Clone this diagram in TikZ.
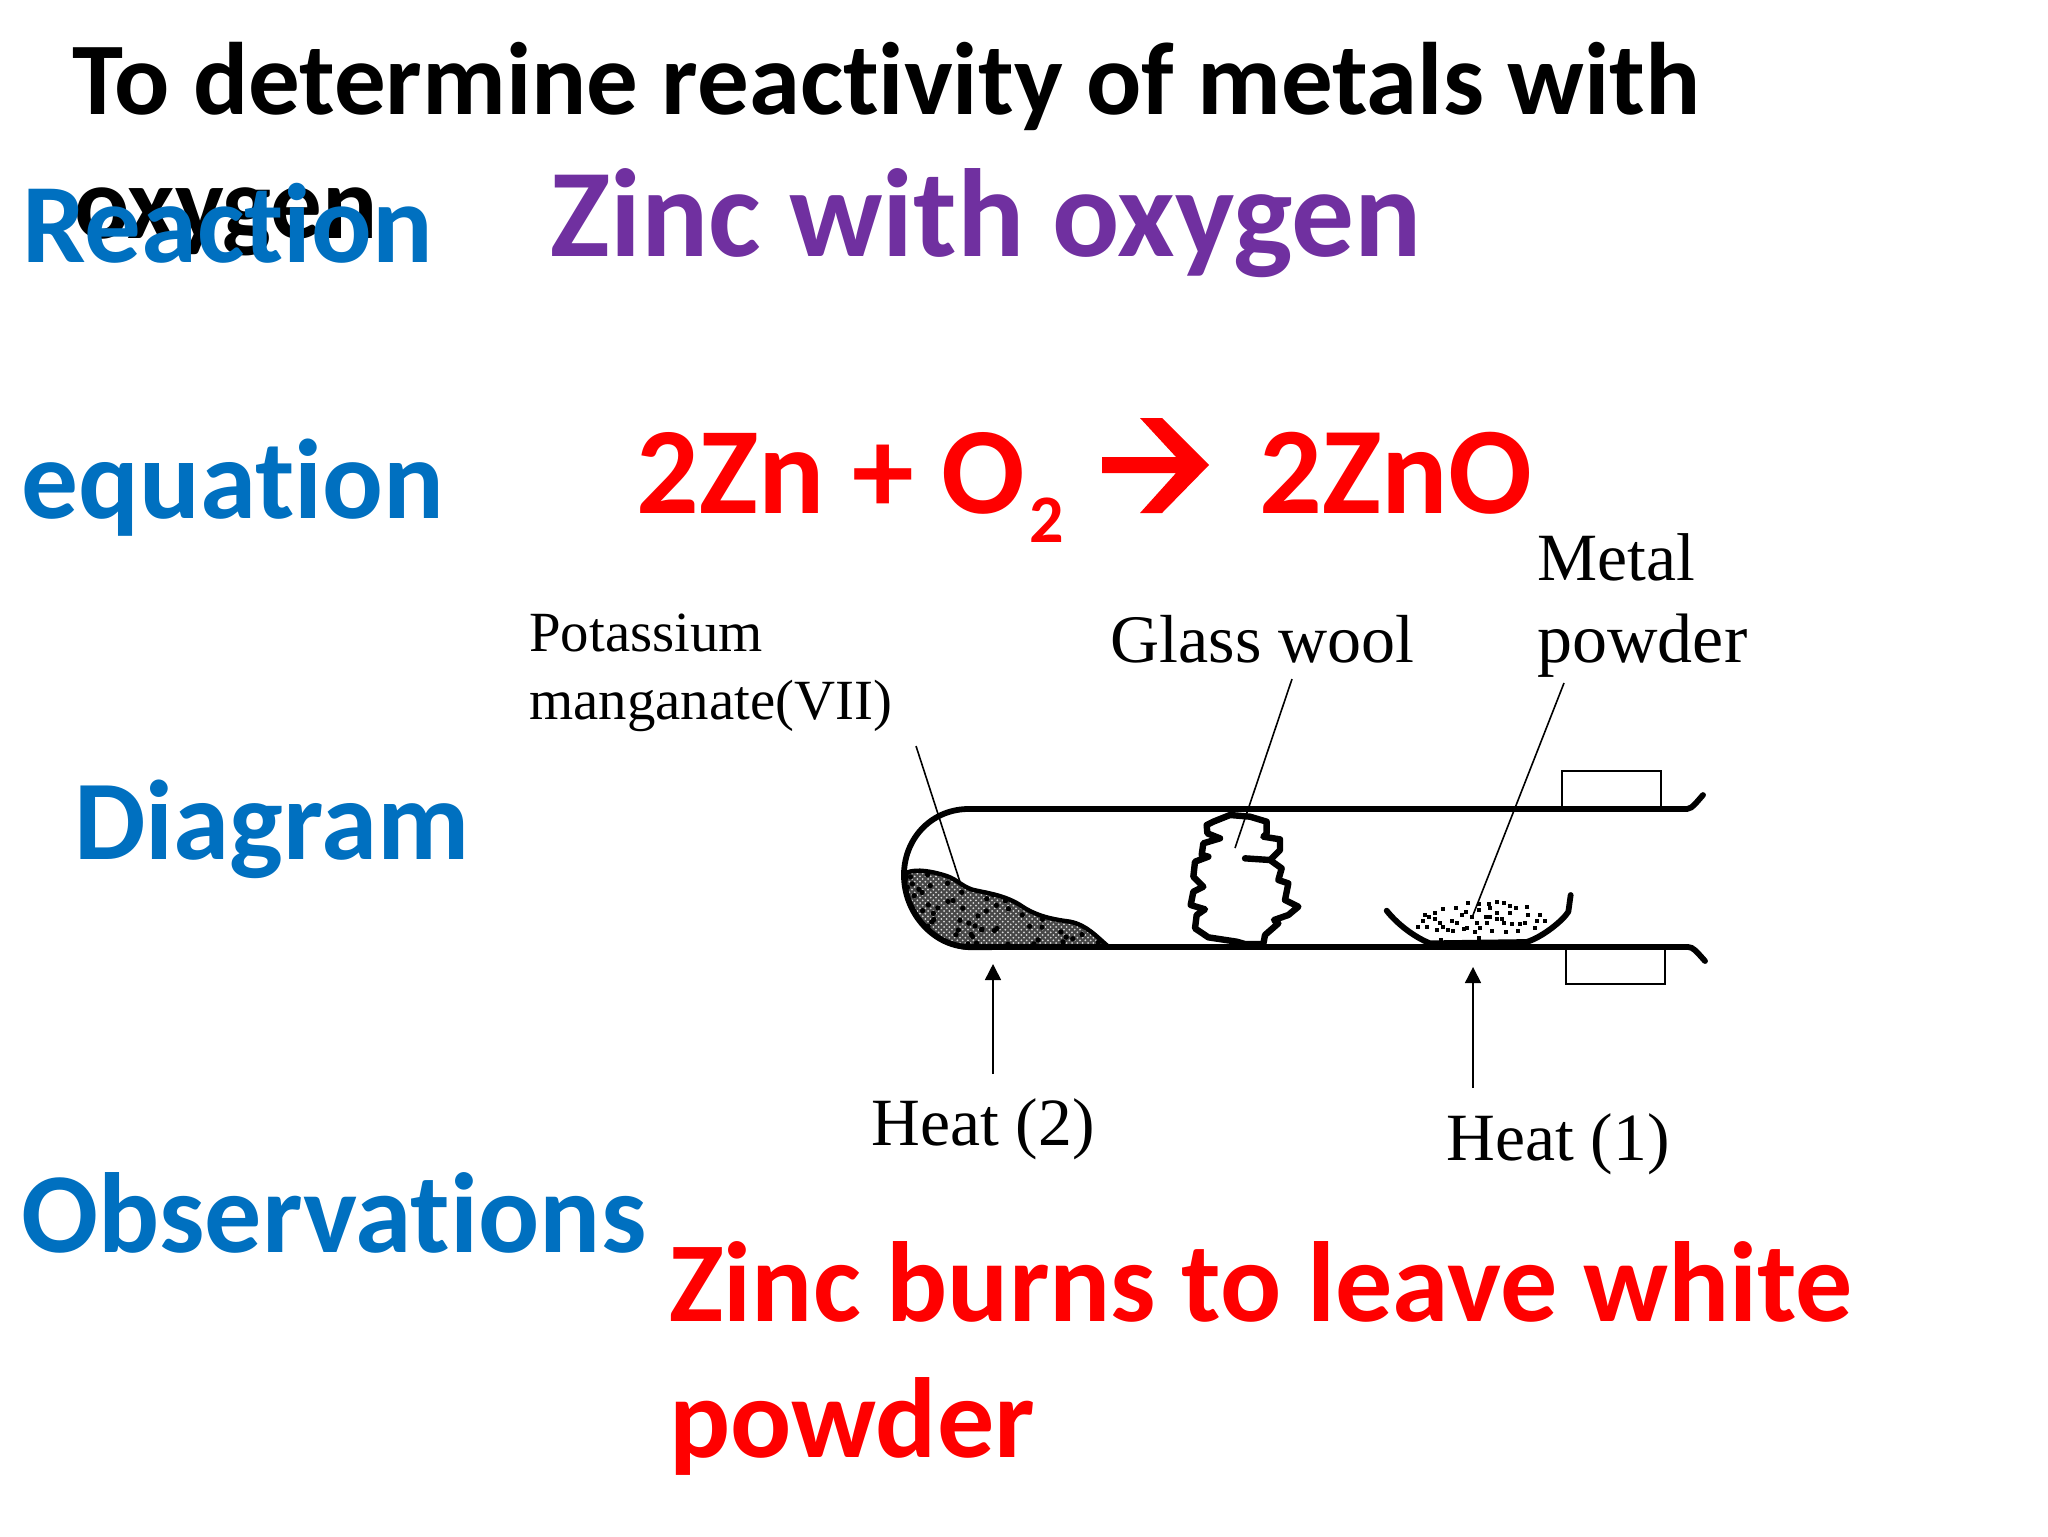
\documentclass[tikz,border=0pt]{standalone}
\usepackage{fontspec}
\usetikzlibrary{arrows.meta,patterns,calc}
\newfontfamily\calfont[Ligatures=NoCommon]{Carlito}
\newfontfamily\timesfont{Liberation Serif}
\definecolor{hblue}{HTML}{0070C0}
\definecolor{hpurple}{HTML}{7030A0}
\definecolor{hred}{HTML}{FF0000}
\tikzset{
  lab/.style={inner sep=0pt,anchor=base west,font=\calfont\bfseries\fontsize{#1}{#1}\selectfont},
  cap/.style={inner sep=0pt,anchor=base west,text=black,font=\timesfont\fontsize{#1}{#1}\selectfont},
  glass/.style={line width=2.9pt,line cap=round,line join=round},
  leader/.style={line width=0.8pt},
  heat/.style={line width=0.8pt,-{Triangle[length=8pt,width=8pt]}},
  stopper/.style={draw,line width=1pt,fill=white}
}
\begin{document}
\begin{tikzpicture}[x=0.5pt,y=-0.5pt]
\useasboundingbox (0,0) rectangle (2048,1536);
\fill[white] (0,0) rectangle (2048,1536);
% headings
\node[lab=51.5,text=black] (title) at (72,114) {To determine reactivity of metals with};
\node[lab=51.5,text=black] (oxy) at (74,238) {oxygen};
\node[lab=56.5,text=hblue] (reaction) at (22,262) {Reaction};
\node[lab=62.7,text=hpurple] (zinc) at (550,256) {Zinc with oxygen};
\node[lab=56.7,text=hblue] (equation) at (21,518) {equation};
\node[lab=56.7,text=hblue] (diagram) at (74,859) {Diagram};
\node[lab=57,text=hblue] (observ) at (21,1252) {Observations};
% equation
\node[lab=61.8,text=hred] (eqa) at (636,513) {2Zn + O};
\node[lab=34,text=hred] (eqb) at (1029,542) {2};
\fill[hred] (1102,457) -- (1176,457) -- (1140,418) -- (1162,418) -- (1209,465) -- (1162,513) -- (1140,513) -- (1176,473) -- (1102,473) -- cycle;
\node[lab=62,text=hred] (eqc) at (1259,513) {2ZnO};
% observation
\node[lab=57,text=hred] (obs1) at (669,1321) {Zinc burns to leave white};
\node[lab=57,text=hred] (obs2) at (669,1457) {powder};
% captions
\node[cap=28.4] (pot1) at (529,651) {Potassium};
\node[cap=28.4] (pot2) at (529,719) {manganate(VII)};
\node[cap=34] (gw) at (1110,662) {Glass wool};
\node[cap=33.8] (mp1) at (1537,580) {Metal};
\node[cap=35] (mp2) at (1537,662) {powder};
\node[cap=33.8] (h2) at (871,1145) {Heat (2)};
\node[cap=33.8] (h1) at (1446,1160) {Heat (1)};
% stoppers
\node[stopper,minimum width=49.5pt,minimum height=18.5pt,inner sep=0pt] (stopT) at (1611.5,789.5) {};
\node[stopper,minimum width=49.5pt,minimum height=18pt,inner sep=0pt] (stopB) at (1615.5,966) {};
% powder in tube end
\begin{scope}[shift={(880,740)},scale=1/3]
  \path[save path=\pile] (80,398) .. controls (110,385) and (160,395) .. (200,408)
    .. controls (235,420) and (250,445) .. (290,452)
    .. controls (340,462) and (380,470) .. (420,495)
    .. controls (470,530) and (520,538) .. (570,545)
    .. controls (620,555) and (650,590) .. (685,620) -- (270,624)
    .. controls (190,620) and (90,550) .. (75,430) -- cycle;
  \begin{scope}
    \clip[use path=\pile];
    \fill[black!72] (60,380) rectangle (700,640);
    \foreach \a in {80,96,...,700}{
      \foreach \b in {385,401,...,630}{
        \fill[white!85!black] (\a,\b) circle[radius=3];
        \fill[white!85!black] (\a+8,\b+8) circle[radius=3];
      }
    }
    \pgfmathsetseed{7}
    \foreach \i in {1,...,90}{
      \pgfmathsetmacro{\px}{80+rnd*600}
      \pgfmathsetmacro{\py}{400+rnd*220}
      \fill[black] (\px,\py) circle[radius=8];
    }
  \end{scope}
  \draw[glass,line width=2.2pt,use path=\pile];
\end{scope}
% tube
\coordinate (tl) at (1687,809);
\coordinate (bl) at (1688,947);
\draw[glass] (1703,795) -- (1696,803) .. controls (1692,807) and (1690,809) .. (tl) -- (967,809)
  .. controls (930,810) and (903,840) .. (904,877)
  .. controls (905,915) and (935,947) .. (970,947) -- (bl)
  .. controls (1693,947) and (1696,951) .. (1705,961);
% glass wool
\begin{scope}[shift={(1170,800)},scale=1/3]
\draw[glass,line width=3.2pt] (225,175) -- (300,180) -- (330,150) -- (330,118) -- (280,110) -- (290,100) -- (290,65)
  -- (240,50) -- (180,45) -- (130,65) -- (110,75) -- (112,100) -- (150,115) -- (100,130) -- (95,165)
  -- (115,170) -- (75,185) -- (70,230) -- (100,260) -- (70,275) -- (62,315) -- (105,328) -- (80,345)
  -- (75,385) -- (115,412) -- (200,425) -- (225,432) -- (280,432) -- (285,405) -- (325,370) -- (312,360)
  -- (355,345) -- (385,320) -- (345,300) -- (355,250) -- (325,240) -- (335,205) -- (300,180);
\end{scope}
% dish and metal powder
\begin{scope}[shift={(1280,740)},scale=1/3]
\draw[glass] (320,512) .. controls (350,550) and (400,590) .. (450,610)
  -- (740,606) .. controls (790,590) and (850,540) .. (865,515) -- (872,465);
\foreach \p in {(565,490),(650,485),(672,490),(690,497),(708,503),(742,502),(628,492),(596,492),(528,503),(488,508),(465,520),(435,525),(447,532),(465,537),(430,543),(415,562),(442,560),(480,550),(488,562),(472,570),(505,570),(520,572),(515,542),(530,548),(545,525),(558,515),(575,530),(597,510),(630,505),(618,532),(650,520),(690,520),(745,525),(780,525),(770,543),(795,543),(735,548),(720,552),(695,553),(665,537),(672,548),(650,537),(620,548),(592,550),(600,565),(552,568),(560,565),(585,577),(637,572),(678,577),(713,572),(765,565),(483,600),(598,595),(630,530)}{
  \fill[black] \p ++(-6,-6) rectangle ++(12,12);
}
\end{scope}
% leaders and heat arrows
\coordinate (potEnd) at (960,882);
\coordinate (potTop) at (916,746);
\coordinate (gwEnd) at (1235,848);
\coordinate (gwTop) at (1292,679);
\coordinate (mpEnd) at (1473,915);
\coordinate (mpTop) at (1564,683);
\draw[leader] (potTop) -- (potEnd);
\draw[leader] (gwTop) -- (gwEnd);
\draw[leader] (mpTop) -- (mpEnd);
\coordinate (h2t) at (993,1074);
\coordinate (h2a) at (993,964);
\coordinate (h1t) at (1473,1088);
\coordinate (h1a) at (1473,967);
\draw[heat] (h2t) -- (h2a);
\draw[heat] (h1t) -- (h1a);
\end{tikzpicture}
\end{document}
